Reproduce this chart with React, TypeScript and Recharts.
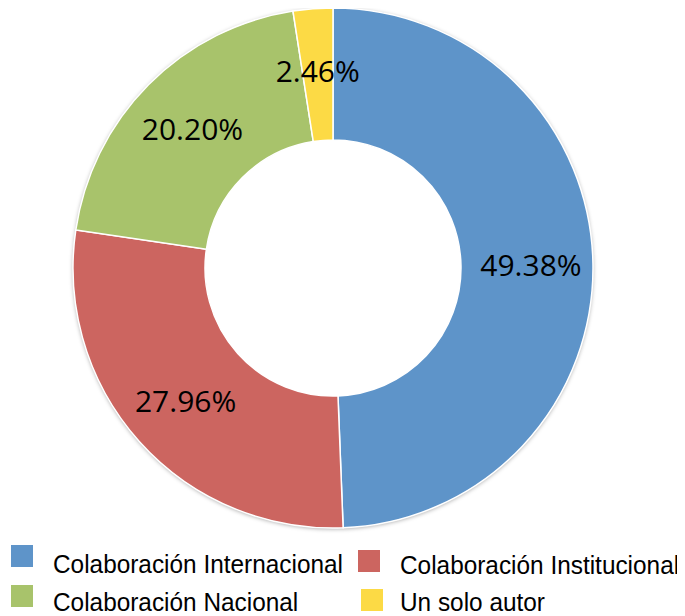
import { PieChart, Pie, Cell } from "recharts";

const categories = [
  "Colaboración Internacional",
  "Colaboración Institucional",
  "Colaboración Nacional",
  "Un solo autor",
];
const shares = [49.38, 27.96, 20.2, 2.46];
const colors = ["#5E94C9", "#CC6560", "#A8C36B", "#FCDA45"];

const pieData = categories.map((name, i) => ({ name, value: shares[i] }));

const RADIAN = Math.PI / 180;

function renderLabel(props: any) {
  const { cx, cy, midAngle, innerRadius, outerRadius, value } = props;
  const r = (innerRadius + outerRadius) / 2 + 4;
  const x = cx + r * Math.cos(-midAngle * RADIAN);
  const y = cy + r * Math.sin(-midAngle * RADIAN);
  return (
    <text
      x={x}
      y={y}
      textAnchor="middle"
      dominantBaseline="central"
      fill="#000"
      fontSize={30}
      fontFamily="'Open Sans', sans-serif"
    >
      {value.toFixed(2)}%
    </text>
  );
}

// legend slots, two columns by two rows (container coords)
const legendSlots = [
  { idx: 0, box: [3, 537], text: [45, 541] },
  { idx: 1, box: [350, 542], text: [392, 542] },
  { idx: 2, box: [3, 577], text: [45, 579] },
  { idx: 3, box: [353, 581], text: [392, 579] },
];

export default function App() {
  return (
    <div style={{ position: "relative", width: 669, height: 608 }}>
      <div
        style={{
          position: "absolute",
          left: 65,
          top: 0,
          width: 520,
          height: 520,
          borderRadius: "50%",
          boxShadow: "0 1px 4px rgba(0,0,0,0.35)",
        }}
      />
      <div style={{ position: "absolute", left: 0, top: 0 }}>
        <PieChart width={669} height={530} margin={{ top: 0, right: 0, bottom: 0, left: 0 }}>
          <Pie
            data={pieData}
            dataKey="value"
            nameKey="name"
            cx={325}
            cy={260}
            innerRadius={128}
            outerRadius={260}
            startAngle={90}
            endAngle={-270}
            stroke="#fff"
            strokeWidth={1.5}
            label={renderLabel}
            labelLine={false}
            isAnimationActive={false}
          >
            {pieData.map((d, i) => (
              <Cell key={d.name} fill={colors[i]} />
            ))}
          </Pie>
        </PieChart>
      </div>
      {legendSlots.map((s) => (
        <div key={s.idx}>
          <div
            style={{
              position: "absolute",
              left: s.box[0],
              top: s.box[1],
              width: 22,
              height: 22,
              background: colors[s.idx],
            }}
          />
          <div
            style={{
              position: "absolute",
              left: s.text[0],
              top: s.text[1],
              fontFamily: "'Liberation Sans', Arial, sans-serif",
              fontSize: 25,
              lineHeight: "30px",
              color: "#000",
              whiteSpace: "nowrap",
              transform: "scaleX(0.975)",
              transformOrigin: "left center",
            }}
          >
            {categories[s.idx]}
          </div>
        </div>
      ))}
    </div>
  );
}
